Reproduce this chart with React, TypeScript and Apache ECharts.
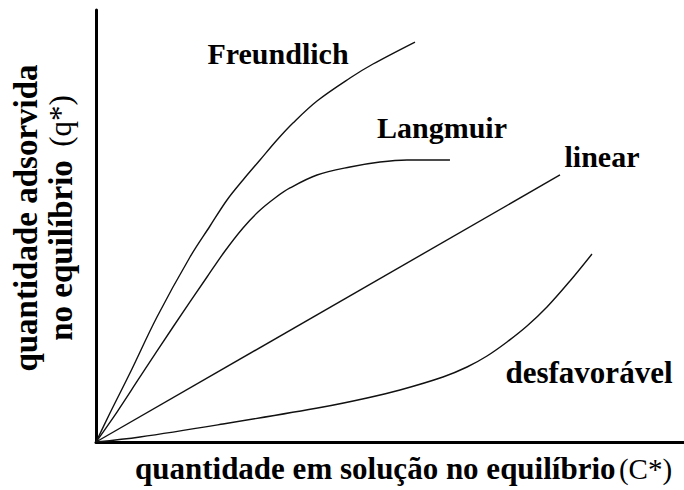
import React, { useEffect, useRef } from "react";
import * as echarts from "echarts";

// Conceptual isotherm shapes (arbitrary units, 0-100 on both axes)
const freundlichX = [0, 2.38, 5.78, 10.37, 15.99, 19.39, 22.28, 25.0, 27.89, 30.78, 33.5, 37.59, 43.2, 47.11, 54.25];
const freundlichY = [0, 6.71, 15.97, 28.94, 42.82, 50.0, 56.02, 60.65, 65.28, 69.91, 73.84, 78.94, 84.26, 87.5, 92.59];

const langmuirX = [0, 3.57, 7.48, 13.1, 18.88, 21.94, 25.0, 27.55, 30.44, 32.99, 37.59, 43.2, 48.3, 52.89, 60.2];
const langmuirY = [0, 6.94, 15.05, 26.62, 38.19, 44.21, 49.54, 53.24, 56.48, 58.8, 61.81, 63.66, 64.81, 65.28, 65.28];

const linearX = [0, 78.91];
const linearY = [0, 61.81];

const desfavX = [0, 7.48, 21.6, 38.61, 46.09, 51.7, 59.01, 63.1, 66.5, 69.9, 73.3, 76.7, 80.61, 84.35];
const desfavY = [0, 1.16, 4.17, 8.1, 10.19, 12.04, 15.05, 17.36, 19.91, 23.15, 26.85, 31.25, 37.27, 43.52];

const seriesNames = ["Freundlich", "Langmuir", "linear", "desfavorável"];
const xTitleMain = "quantidade em solução no equilíbrio";
const xTitleUnit = "(C*)";
const yTitleLine1 = "quantidade adsorvida";
const yTitleLine2 = "no equilíbrio";
const yTitleUnit = "(q*)";

const zip = (xs: number[], ys: number[]) => xs.map((x, i) => [x, ys[i]]);

const FONT = "Liberation Serif";

export default function App() {
  const ref = useRef<HTMLDivElement>(null);

  useEffect(() => {
    if (!ref.current) return;
    const chart = echarts.init(ref.current, undefined, { renderer: "svg" });

    const lineSeries = (name: string, data: number[][], smooth: boolean) => ({
      name,
      type: "line",
      data,
      showSymbol: false,
      symbol: "none",
      smooth: smooth ? 0.35 : false,
      lineStyle: { color: "#111", width: 1.4 },
      silent: true,
    });

    const label = (text: string, x: number, y: number, size: number) => ({
      type: "text",
      x,
      y,
      style: {
        text,
        fill: "#000",
        fontFamily: FONT,
        fontWeight: "bold",
        fontSize: size,
        align: "center",
        verticalAlign: "middle",
      },
    });

    chart.setOption({
      animation: false,
      backgroundColor: "#fff",
      grid: { left: 96, right: 0, top: 10, bottom: 48 },
      xAxis: {
        type: "value",
        min: 0,
        max: 100,
        axisLine: { show: true, lineStyle: { color: "#000", width: 3 } },
        axisTick: { show: false },
        axisLabel: { show: false },
        splitLine: { show: false },
        name: `{b|${xTitleMain}} {r|${xTitleUnit}}`,
        nameLocation: "middle",
        nameGap: 11,
        nameTextStyle: {
          padding: [0, 0, 0, 27],
          rich: {
            b: { fontFamily: FONT, fontWeight: "bold", fontSize: 31, color: "#000" },
            r: { fontFamily: FONT, fontWeight: "normal", fontSize: 29, color: "#000" },
          },
        },
      },
      yAxis: {
        type: "value",
        min: 0,
        max: 100,
        axisLine: { show: true, lineStyle: { color: "#000", width: 3 } },
        axisTick: { show: false },
        axisLabel: { show: false },
        splitLine: { show: false },
        name: `{b|${yTitleLine1}}\n{b|${yTitleLine2}}    {r|${yTitleUnit}}`,
        nameLocation: "middle",
        nameRotate: 90,
        nameGap: 18,
        nameTextStyle: {
          padding: [0, 0, 0, 16],
          rich: {
            b: { fontFamily: FONT, fontWeight: "bold", fontSize: 33, lineHeight: 35, color: "#000" },
            r: { fontFamily: FONT, fontWeight: "normal", fontSize: 31, lineHeight: 35, color: "#000" },
          },
        },
      },
      series: [
        lineSeries(seriesNames[0], zip(freundlichX, freundlichY), true),
        lineSeries(seriesNames[1], zip(langmuirX, langmuirY), true),
        lineSeries(seriesNames[2], zip(linearX, linearY), false),
        lineSeries(seriesNames[3], zip(desfavX, desfavY), true),
      ],
      graphic: [
        label(seriesNames[0], 278, 53, 30),
        label(seriesNames[1], 442, 127, 30),
        label(seriesNames[2], 602, 156, 30),
        label(seriesNames[3], 589, 372, 31),
      ],
    });

    return () => chart.dispose();
  }, []);

  return (
    <div
      ref={ref}
      style={{ position: "absolute", left: 0, top: 0, width: 684, height: 490 }}
    />
  );
}
